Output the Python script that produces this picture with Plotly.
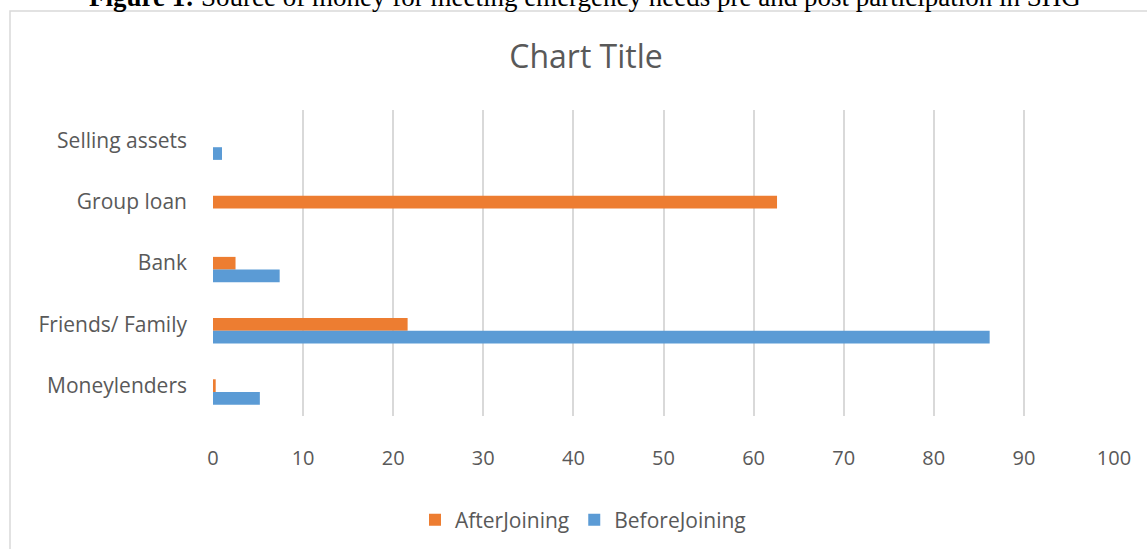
import plotly.graph_objects as go

categories = ["Moneylenders", "Friends/ Family", "Bank", "Group loan", "Selling assets"]
after_joining = [0.3, 21.6, 2.5, 62.6, 0]
before_joining = [5.2, 86.2, 7.4, 0, 1.0]
x_ticks = [0, 10, 20, 30, 40, 50, 60, 70, 80, 90, 100]

W, H = 1147, 549
L, R, T, B = 213, 33, 110, 133
PW, PH = W - L - R, H - T - B

def px(xp):
    return (xp - L) / PW

def py(yp):
    return (H - B - yp) / PH

FONT = "Open Sans"
GREY = "#595959"

fig = go.Figure()
fig.add_trace(go.Bar(
    y=categories, x=after_joining, orientation="h", name="AfterJoining",
    marker=dict(color="#ED7D31", line=dict(width=0)),
    width=0.208, offset=-0.108,
))
fig.add_trace(go.Bar(
    y=categories, x=before_joining, orientation="h", name="BeforeJoining",
    marker=dict(color="#5B9BD5", line=dict(width=0)),
    width=0.207, offset=-0.315,
))

fig.update_layout(
    width=W, height=H,
    margin=dict(l=L, r=R, t=T, b=B, autoexpand=False),
    paper_bgcolor="white", plot_bgcolor="white",
    barmode="overlay",
    showlegend=True,
    title=dict(text="Chart Title", x=586 / W, xanchor="center", y=1 - 57 / H, yanchor="middle",
               font=dict(family=FONT, size=32, color=GREY)),
    legend=dict(orientation="h", x=px(583), xanchor="center", y=py(520), yanchor="middle",
                traceorder="normal", font=dict(family=FONT, size=21, color=GREY),
                bgcolor="rgba(0,0,0,0)"),
    xaxis=dict(range=[0, 100], tickvals=x_ticks, ticktext=[str(v) for v in x_ticks],
               showgrid=True, gridcolor="#d9d9d9", gridwidth=1.5,
               zeroline=False, showline=False, ticks="",
               ticklabelstandoff=28,
               tickfont=dict(family=FONT, size=20, color=GREY), fixedrange=True),
    yaxis=dict(type="category", categoryorder="array", categoryarray=categories,
               range=[-0.5, 4.5], showgrid=False, zeroline=False, showline=False,
               ticks="", ticklabelstandoff=25,
               tickfont=dict(family=FONT, size=21, color=GREY), fixedrange=True),
    shapes=[dict(type="rect", xref="paper", yref="paper",
                 x0=px(10), x1=px(1160), y0=py(11), y1=py(570),
                 line=dict(color="#d9d9d9", width=1.5), fillcolor="rgba(0,0,0,0)", layer="below")],
    annotations=[dict(text="<b>Figure 1:</b> Source of money for meeting emergency needs pre and post participation in SHG",
                      xref="paper", yref="paper", x=px(585), y=py(-3), xanchor="center", yanchor="middle",
                      showarrow=False, font=dict(family="Liberation Serif", size=27, color="black"))],
)

fig.write_html("out.html")
